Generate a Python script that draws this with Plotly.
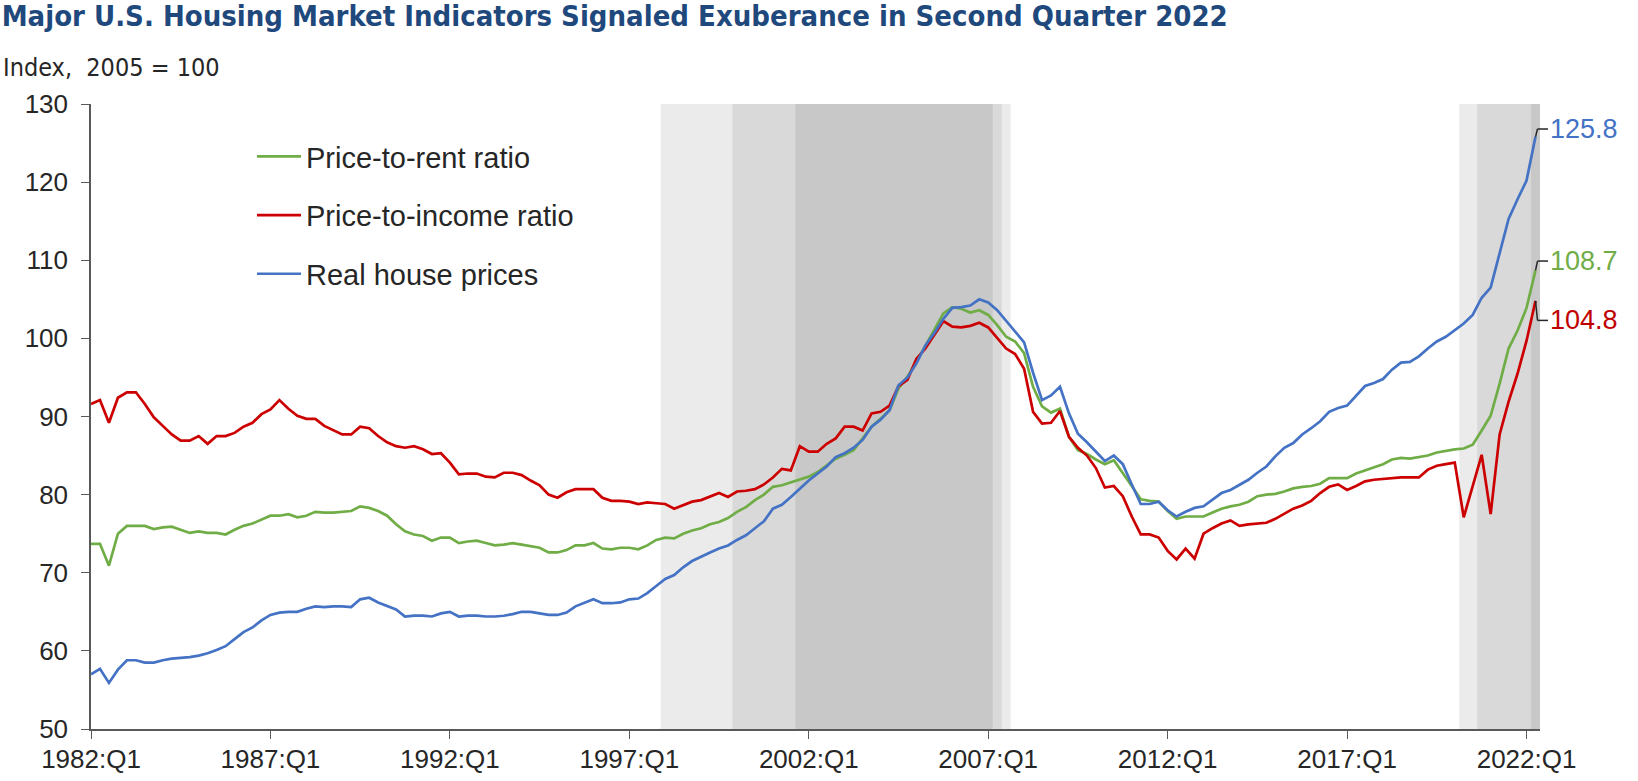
import plotly.graph_objects as go

# ---------------- data ----------------
years = list(range(1982, 2023))
quarters = [f"{y}:Q{q}" for y in years for q in range(1, 5)][:162]  # 1982:Q1 .. 2022:Q2

price_to_rent = [
    73.7, 73.7, 70.9, 75.0, 76.0, 76.0, 76.0, 75.6, 75.8, 75.9, 75.5, 75.1, 75.3, 75.1, 75.1, 74.9,
    75.5, 76.0, 76.3, 76.8, 77.3, 77.3, 77.5, 77.1, 77.3, 77.8, 77.7, 77.7, 77.8, 77.9, 78.5, 78.3,
    77.9, 77.3, 76.2, 75.3, 74.9, 74.7, 74.1, 74.5, 74.5, 73.8, 74.0, 74.1, 73.8, 73.5, 73.6, 73.8,
    73.6, 73.4, 73.2, 72.6, 72.6, 72.9, 73.5, 73.5, 73.8, 73.1, 73.0, 73.2, 73.2, 73.0, 73.5, 74.2,
    74.5, 74.4, 75.0, 75.4, 75.7, 76.2, 76.5, 77.0, 77.8, 78.4, 79.3, 80.0, 81.0, 81.2, 81.6, 81.9,
    82.3, 82.9, 83.7, 84.6, 85.1, 85.7, 87.2, 88.7, 89.7, 90.8, 93.6, 95.1, 97.0, 99.1, 101.1, 103.2,
    104.0, 103.8, 103.3, 103.6, 103.0, 101.7, 100.2, 99.6, 98.1, 93.8, 91.3, 90.5, 91.0, 87.4, 85.7, 85.2,
    84.5, 83.9, 84.4, 82.8, 81.1, 79.4, 79.2, 79.1, 77.9, 76.9, 77.2, 77.2, 77.2, 77.7, 78.2, 78.5,
    78.7, 79.1, 79.8, 80.0, 80.1, 80.4, 80.8, 81.0, 81.1, 81.4, 82.1, 82.1, 82.1, 82.7, 83.1, 83.4,
    83.9, 84.5, 84.7, 84.6, 84.8, 85.0, 85.4, 85.6, 85.8, 85.9, 86.4, 88.2, 90.1, 94.2, 98.7, 101.0,
    103.9, 108.7,
]

price_to_income = [
    91.6, 92.1, 89.2, 92.4, 93.1, 93.1, 91.6, 89.9, 88.8, 87.7, 86.9, 86.9, 87.5, 86.5, 87.5, 87.5,
    87.9, 88.7, 89.2, 90.3, 90.9, 92.1, 91.0, 90.1, 89.7, 89.7, 88.8, 88.2, 87.7, 87.7, 88.7, 88.5,
    87.5, 86.7, 86.2, 86.0, 86.2, 85.8, 85.2, 85.3, 84.1, 82.6, 82.7, 82.7, 82.3, 82.2, 82.8, 82.8,
    82.5, 81.8, 81.2, 80.0, 79.6, 80.3, 80.7, 80.7, 80.7, 79.6, 79.2, 79.2, 79.1, 78.8, 79.0, 78.9,
    78.8, 78.2, 78.7, 79.1, 79.3, 79.7, 80.2, 79.7, 80.4, 80.5, 80.7, 81.3, 82.2, 83.3, 83.1, 86.2,
    85.5, 85.5, 86.5, 87.2, 88.7, 88.7, 88.2, 90.4, 90.6, 91.4, 93.9, 94.7, 97.4, 98.7, 100.4, 102.2,
    101.5, 101.4, 101.6, 102.0, 101.4, 100.1, 98.7, 98.0, 96.1, 90.6, 89.1, 89.2, 90.7, 87.4, 86.0, 85.0,
    83.4, 80.9, 81.1, 79.8, 77.2, 74.9, 74.9, 74.5, 72.8, 71.7, 73.1, 71.8, 75.0, 75.7, 76.3, 76.7,
    76.0, 76.2, 76.3, 76.4, 76.9, 77.6, 78.2, 78.6, 79.2, 80.2, 81.0, 81.3, 80.6, 81.1, 81.7, 81.9,
    82.0, 82.1, 82.2, 82.2, 82.2, 83.2, 83.7, 83.9, 84.1, 77.1, 81.0, 85.1, 77.5, 87.7, 91.9, 95.5,
    99.7, 104.8,
]

real_house_prices = [
    57.0, 57.7, 55.9, 57.6, 58.8, 58.8, 58.5, 58.5, 58.8, 59.0, 59.1, 59.2, 59.4, 59.7, 60.1, 60.6,
    61.5, 62.4, 63.0, 63.9, 64.6, 64.9, 65.0, 65.0, 65.4, 65.7, 65.6, 65.7, 65.7, 65.6, 66.6, 66.8,
    66.2, 65.8, 65.3, 64.4, 64.5, 64.5, 64.4, 64.8, 65.0, 64.4, 64.5, 64.5, 64.4, 64.4, 64.5, 64.7,
    65.0, 65.0, 64.8, 64.6, 64.6, 64.9, 65.7, 66.2, 66.6, 66.1, 66.1, 66.2, 66.6, 66.7, 67.4, 68.3,
    69.2, 69.7, 70.7, 71.5, 72.1, 72.6, 73.1, 73.5, 74.2, 74.8, 75.7, 76.6, 78.2, 78.7, 79.7, 80.8,
    81.8, 82.7, 83.6, 84.8, 85.3, 86.0, 87.0, 88.7, 89.6, 90.8, 94.0, 95.0, 96.8, 99.1, 100.7, 102.5,
    103.9, 104.0, 104.2, 105.0, 104.6, 103.6, 102.2, 100.8, 99.5, 95.6, 92.1, 92.7, 93.8, 90.4, 87.8, 86.7,
    85.5, 84.3, 85.0, 83.9, 81.3, 78.8, 78.8, 79.1, 78.0, 77.2, 77.8, 78.3, 78.5, 79.4, 80.2, 80.6,
    81.3, 81.9, 82.8, 83.6, 84.9, 86.0, 86.6, 87.7, 88.5, 89.4, 90.6, 91.1, 91.4, 92.6, 93.9, 94.3,
    94.8, 96.0, 96.9, 97.0, 97.7, 98.7, 99.6, 100.2, 101.0, 101.9, 103.0, 105.2, 106.5, 111.0, 115.3, 117.8,
    120.2, 125.8,
]

series_names = ["Price-to-rent ratio", "Price-to-income ratio", "Real house prices"]
series_colors = ["#70AD47", "#CC0000", "#4472C4"]
label_colors = ["#70AD47", "#C00000", "#4472C4"]

# exuberance periods (confidence level shading)
band_start = ["1998:Q1", "2000:Q1", "2001:Q4", "2020:Q2", "2020:Q4", "2022:Q2"]
band_end = ["2007:Q3", "2007:Q2", "2007:Q1", "2022:Q2", "2022:Q2", "2022:Q2"]
band_level = ["90", "95", "99", "90", "95", "99"]
level_colors = {"90": "#EBEBEB", "95": "#D9D9D9", "99": "#C8C8C8"}

tick_labels = ["1982:Q1", "1987:Q1", "1992:Q1", "1997:Q1", "2002:Q1",
               "2007:Q1", "2012:Q1", "2017:Q1", "2022:Q1"]

# ---------------- layout geometry ----------------
W, H = 1638, 781
ML, MR, MT, MB = 91, 98, 104, 52
Y0, Y1 = 50, 130
XMAX = 161.5
FONT = "Liberation Sans, Arial, sans-serif"
NARROW = "Liberation Sans Narrow, Arial Narrow, DejaVu Sans Condensed, sans-serif"

fig = go.Figure()

# shading bands
for s, e, lv in zip(band_start, band_end, band_level):
    fig.add_shape(type="rect", xref="x", yref="paper",
                  x0=quarters.index(s) - 0.5, x1=quarters.index(e) + 0.5, y0=0, y1=1,
                  fillcolor=level_colors[lv], line=dict(width=0), layer="below")

for name, vals, col in zip(series_names, [price_to_rent, price_to_income, real_house_prices], series_colors):
    fig.add_trace(go.Scatter(x=quarters, y=vals, mode="lines", name=name,
                             legendgroup=name,
                             line=dict(color=col, width=2.7), hoverinfo="skip"))

# end labels with leader lines
plot_w = W - ML - MR
plot_h = H - MT - MB
px_x = lambda px: (px - ML) / plot_w
px_y = lambda py: (H - MB - py) / plot_h
def fy(v):
    return (v - Y0) / (Y1 - Y0)

offsets = [1.2, -2.5, 1.0]  # vertical leader offset (index units) for green, red, blue
x_end = (len(quarters) - 1) / XMAX
for vals, col, off in zip([price_to_rent, price_to_income, real_house_prices], label_colors, offsets):
    v = vals[-1]
    yl = fy(v + off)
    fig.add_shape(type="line", xref="paper", yref="paper",
                  x0=x_end, y0=fy(v), x1=px_x(1537.5), y1=yl,
                  line=dict(color="#262626", width=1.5))
    fig.add_shape(type="line", xref="paper", yref="paper",
                  x0=px_x(1537.5), y0=yl, x1=px_x(1548), y1=yl,
                  line=dict(color="#262626", width=1.5))
    fig.add_annotation(xref="paper", yref="paper", x=px_x(1548), y=yl,
                       xanchor="left", yanchor="middle", showarrow=False,
                       text=f"{v:.1f}", font=dict(family=FONT, size=27, color=col))

# y-axis unit label
fig.add_annotation(xref="paper", yref="paper", x=px_x(1), y=px_y(67),
                   xanchor="left", yanchor="middle", showarrow=False,
                   text="Index,  2005 = 100", font=dict(family=NARROW, size=25, color="#262626"))

fig.update_layout(
    width=W, height=H,
    margin=dict(l=ML, r=MR, t=MT, b=MB, pad=0, autoexpand=False),
    paper_bgcolor="white", plot_bgcolor="white",
    title=dict(text="<b>Major U.S. Housing Market Indicators Signaled Exuberance in Second Quarter 2022</b>",
               x=0.001, xanchor="left", xref="container",
               y=1 - 16 / H, yanchor="middle", automargin=False,
               font=dict(family=NARROW, size=29, color="#1F497D")),
    showlegend=True,
    legend=dict(x=px_x(252), y=px_y(131), xanchor="left", yanchor="top",
                bgcolor="rgba(0,0,0,0)", borderwidth=0,
                font=dict(family=FONT, size=29, color="#262626"),
                tracegroupgap=18, itemwidth=44, traceorder="grouped"),
    xaxis=dict(type="category", range=[0, XMAX], tickmode="array", tickvals=tick_labels,
               ticktext=tick_labels, showgrid=False, zeroline=False, automargin=False,
               showline=True, linecolor="#595959", linewidth=2,
               ticks="outside", ticklen=8, tickwidth=1.3, tickcolor="#595959",
               ticklabelstandoff=-2,
               tickfont=dict(family=FONT, size=26, color="#262626")),
    yaxis=dict(range=[Y0, Y1], dtick=10, showgrid=False, zeroline=False, automargin=False,
               showline=True, linecolor="#595959", linewidth=1.5,
               ticks="outside", ticklen=8, tickwidth=1.3, tickcolor="#595959",
               ticklabelstandoff=8,
               tickfont=dict(family=FONT, size=26, color="#262626")),
)

fig.write_html("out.html", config={"displayModeBar": False},
               post_script="document.body.style.margin='0px';")
